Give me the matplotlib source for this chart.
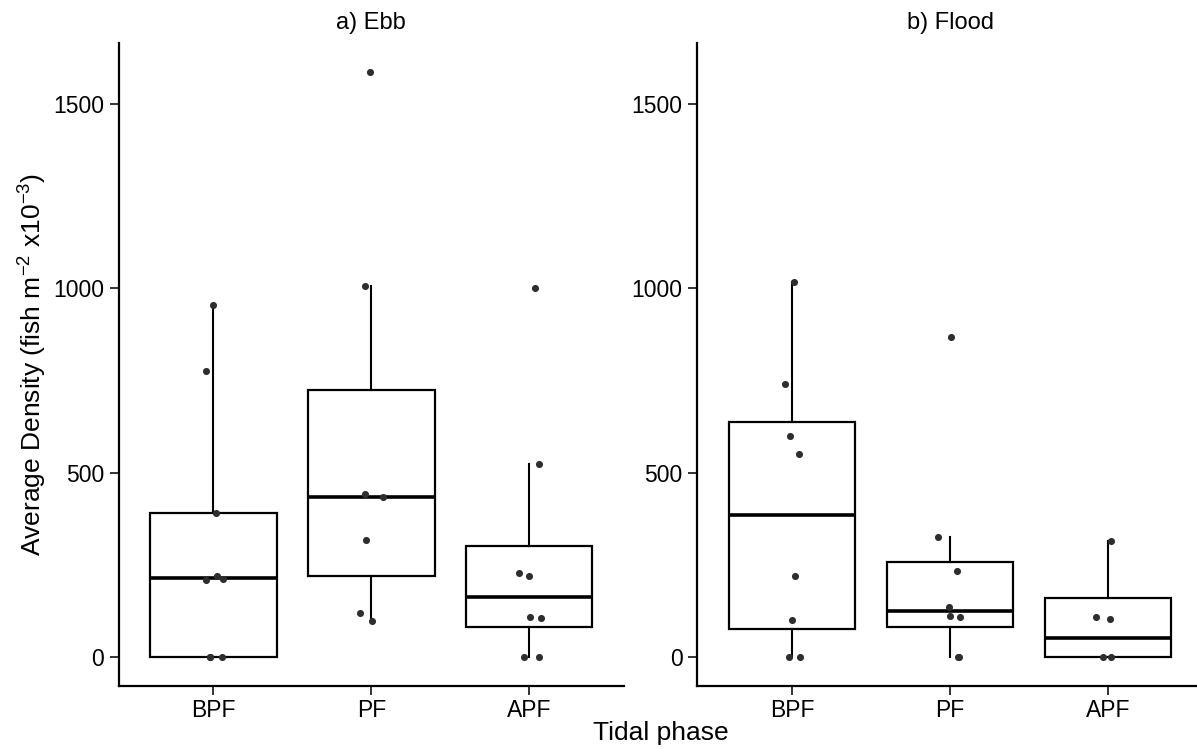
import matplotlib
matplotlib.use("Agg")
import matplotlib.pyplot as plt

plt.rcParams['font.family'] = ['Liberation Sans', 'DejaVu Sans']
plt.rcParams['mathtext.fontset'] = 'custom'
plt.rcParams['mathtext.rm'] = 'Liberation Sans'
plt.rcParams['mathtext.it'] = 'Liberation Sans:italic'

phases = ["BPF", "PF", "APF"]
titles = ["a) Ebb", "b) Flood"]

# box statistics: [BPF, PF, APF]
ebb_whislo = [0, 97, 0]
ebb_q1 = [0, 218, 80]
ebb_med = [213, 434, 163]
ebb_q3 = [391, 724, 301]
ebb_whishi = [954, 1005, 522]

flood_whislo = [0, 0, 0]
flood_q1 = [76, 81, 0]
flood_med = [386, 123, 52]
flood_q3 = [636, 256, 160]
flood_whishi = [1017, 324, 315]

# individual observations
ebb_bpf = [954, 776, 391, 218, 207, 212, 0, 0, 0]
ebb_pf = [1587, 1005, 443, 433, 318, 118, 97]
ebb_apf = [1000, 522, 228, 218, 108, 105, 0, 0]
flood_bpf = [1017, 740, 600, 551, 220, 101, 0, 0]
flood_pf = [869, 324, 234, 136, 111, 108, 0, 0]
flood_apf = [315, 109, 102, 0, 0]

# horizontal jitter of the points, in category units
jit_ebb_bpf = [0.0, -0.046, 0.017, 0.023, -0.046, 0.061, -0.021, -0.019, 0.053]
jit_ebb_pf = [-0.006, -0.038, -0.042, 0.074, -0.036, -0.072, 0.002]
jit_ebb_apf = [0.038, 0.063, -0.066, -0.002, 0.002, 0.076, -0.032, 0.063]
jit_flood_bpf = [0.015, -0.042, -0.013, 0.044, 0.021, 0.0, -0.017, 0.049]
jit_flood_pf = [0.006, -0.076, 0.042, -0.006, 0.0, 0.063, 0.049, 0.059]
jit_flood_apf = [0.017, -0.078, 0.011, -0.03, 0.021]

panels = [
    (ebb_whislo, ebb_q1, ebb_med, ebb_q3, ebb_whishi,
     [ebb_bpf, ebb_pf, ebb_apf], [jit_ebb_bpf, jit_ebb_pf, jit_ebb_apf]),
    (flood_whislo, flood_q1, flood_med, flood_q3, flood_whishi,
     [flood_bpf, flood_pf, flood_apf], [jit_flood_bpf, jit_flood_pf, jit_flood_apf]),
]

fig = plt.figure(figsize=(11.97, 7.49), dpi=100)
ax_w = 505.6 / 1197
ax_b = (749 - 686) / 749
ax_h = (686 - 42.7) / 749
lefts = [118.5 / 1197, 697.2 / 1197]

ymin, ymax = -79.35, 1666.35

for k, (wlo, q1, med, q3, whi, pts, jits) in enumerate(panels):
    ax = fig.add_axes([lefts[k], ax_b, ax_w, ax_h])
    stats = []
    for i in range(3):
        stats.append(dict(whislo=wlo[i], q1=q1[i], med=med[i], q3=q3[i], whishi=whi[i]))
    ax.bxp(stats, positions=[1, 2, 3], widths=0.8, showcaps=False, showfliers=False,
           patch_artist=True,
           boxprops=dict(facecolor='white', edgecolor='black', linewidth=1.6),
           whiskerprops=dict(color='black', linewidth=1.5),
           medianprops=dict(color='black', linewidth=2.6, solid_capstyle='butt'))
    for i in range(3):
        xs = [i + 1 + j for j in jits[i]]
        ax.scatter(xs, pts[i], s=26, color='#2e2e2e', zorder=5, linewidths=0)
    ax.set_xlim(0.4, 3.6)
    ax.set_ylim(ymin, ymax)
    ax.set_xticks([1, 2, 3])
    ax.set_xticklabels(phases)
    ax.set_yticks([0, 500, 1000, 1500])
    ax.spines['top'].set_visible(False)
    ax.spines['right'].set_visible(False)
    ax.spines['left'].set_linewidth(1.6)
    ax.spines['bottom'].set_linewidth(1.6)
    ax.tick_params(axis='both', length=6.5, width=1.4, color='#333333',
                   labelsize=16.5, labelcolor='black')
    ax.tick_params(axis='y', pad=4)
    ax.tick_params(axis='x', pad=3)
    ax.set_title(titles[k], fontsize=17, pad=10)
    if k == 0:
        ax.set_ylabel('Average Density (fish m$^{-2}$ x10$^{-3}$)', fontsize=19, labelpad=3)

fig.text((118.5 + 1203) / 2 / 1197, 16 / 749, 'Tidal phase', ha='center', va='center', fontsize=19)

fig.savefig('out.png', dpi=100)
